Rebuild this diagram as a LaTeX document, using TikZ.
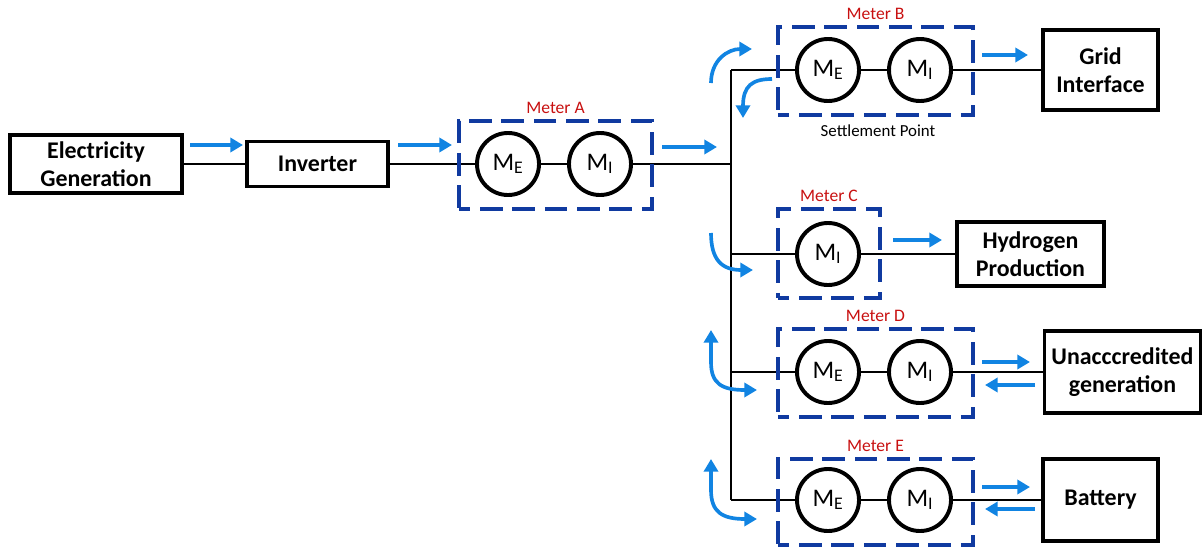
\documentclass[tikz,border=0pt]{standalone}
\usepackage{fontspec}
\setmainfont{Carlito}
\usetikzlibrary{arrows.meta}
\definecolor{flowblue}{RGB}{17,132,226}
\definecolor{meterblue}{RGB}{16,58,160}
\definecolor{meterred}{RGB}{200,16,16}
\tikzset{
  block/.style={draw=black, line width=2.6pt, align=center, inner sep=0pt, font=\fontsize{17}{20}\selectfont\bfseries},
  meter/.style={draw=black, circle, line width=2.8pt, minimum size=1.55cm, inner sep=0pt, font=\fontsize{18}{20}\selectfont},
  meterbox/.style={draw=meterblue, line width=2.8pt, dash pattern=on 16pt off 7pt, dash phase=8pt, inner sep=0pt},
  meterlbl/.style={text=meterred, font=\fontsize{12.5}{14}\selectfont},
  flow/.style={flowblue, line width=2.6pt, -{Triangle[length=9pt,width=10pt]}},
  twoflow/.style={flowblue, line width=2.6pt, {Triangle[length=9pt,width=10pt]}-{Triangle[length=9pt,width=10pt]}},
  wire/.style={draw=black, line width=1.2pt}
}
\begin{document}
\begin{tikzpicture}[x=0.025cm,y=-0.025cm]
\useasboundingbox (0,0) rectangle (1203,546);
%Source side
\node[block, minimum width=4.3cm, minimum height=1.45cm] (gen) at (96,164) {Electricity\\Generation};
\node[block, minimum width=3.525cm, minimum height=1.125cm] (inv) at (317.5,164) {Inverter};
%Loads
\node[block, minimum width=2.875cm, minimum height=2cm] (grid) at (1100.5,70) {Grid\\Interface};
\node[block, minimum width=3.675cm, minimum height=1.6cm] (hyd) at (1030.5,254) {Hydrogen\\Production};
\node[block, minimum width=3.9cm, minimum height=2.05cm] (unacc) at (1122.5,372) {Unacccredited\\generation};
\node[block, minimum width=2.875cm, minimum height=2.05cm] (bat) at (1100.5,500) {Battery};
%Meters
\node[meter] (aE) at (508,164) {M\textsubscript{E}};
\node[meter] (aI) at (600,164) {M\textsubscript{I}};
\node[meter] (bE) at (828,70) {M\textsubscript{E}};
\node[meter] (bI) at (920,70) {M\textsubscript{I}};
\node[meter] (cI) at (828,254) {M\textsubscript{I}};
\node[meter] (dE) at (828,372) {M\textsubscript{E}};
\node[meter] (dI) at (920,372) {M\textsubscript{I}};
\node[meter] (eE) at (828,500) {M\textsubscript{E}};
\node[meter] (eI) at (920,500) {M\textsubscript{I}};
%Bus
\coordinate (busA) at (731,164);
\coordinate (busTop) at (731,70);
\coordinate (busBot) at (731,500);
\draw[wire] (gen) -- (inv);
\draw[wire] (inv) -- (aE) -- (aI) -- (busA);
\draw[wire] (busTop) -- (busBot);
\draw[wire] (busTop) -- (bE) -- (bI) -- (grid);
\draw[wire] (busA |- cI) -- (cI) -- (hyd);
\draw[wire] (busA |- dE) -- (dE) -- (dI) -- (unacc);
\draw[wire] (busBot) -- (eE) -- (eI) -- (bat);
%Dashed boxes
\node[meterbox, minimum width=4.825cm, minimum height=2.2cm, label={[meterlbl]above:Meter A}] (boxA) at (555.5,165) {};
\node[meterbox, minimum width=4.875cm, minimum height=2.2cm, label={[meterlbl]above:Meter B}] (boxB) at (875.5,71) {};
\node[meterbox, minimum width=2.55cm, minimum height=2.225cm, label={[meterlbl]above:Meter C}] (boxC) at (829,253.5) {};
\node[meterbox, minimum width=4.875cm, minimum height=2.2cm, label={[meterlbl]above:Meter D}] (boxD) at (875.5,373) {};
\node[meterbox, minimum width=4.875cm, minimum height=2.15cm, label={[meterlbl]above:Meter E}] (boxE) at (875.5,502) {};
\node[font=\fontsize{12}{14}\selectfont] (settle) at (878,131) {Settlement Point};
%Flow arrows
\draw[flow] (190,145) -- (243,145);
\draw[flow] (398,145) -- (452,145);
\draw[flow] (662,147) -- (717,147);
\draw[flow] (982,55) -- (1028,55);
\draw[flow] (893,240) -- (942,240);
\draw[flow] (982,362) -- (1030,362);
\draw[flow] (1035,385) -- (985,385);
\draw[flow] (982,487) -- (1030,487);
\draw[flow] (1035,509) -- (985,509);
%Curved arrows at the bus
\draw[flow] (711,83) .. controls (711,60) and (728,49) .. (752,49);
\draw[flow] (772,79) .. controls (752,79) and (743,86) .. (743,118);
\draw[flow] (711,233) .. controls (711,260) and (722,270) .. (753,270);
\draw[twoflow] (711,330) -- (711,362) .. controls (711,384) and (722,390) .. (757,390);
\draw[twoflow] (711,459) -- (711,490) .. controls (711,512) and (722,519) .. (757,519);
\end{tikzpicture}
\end{document}
